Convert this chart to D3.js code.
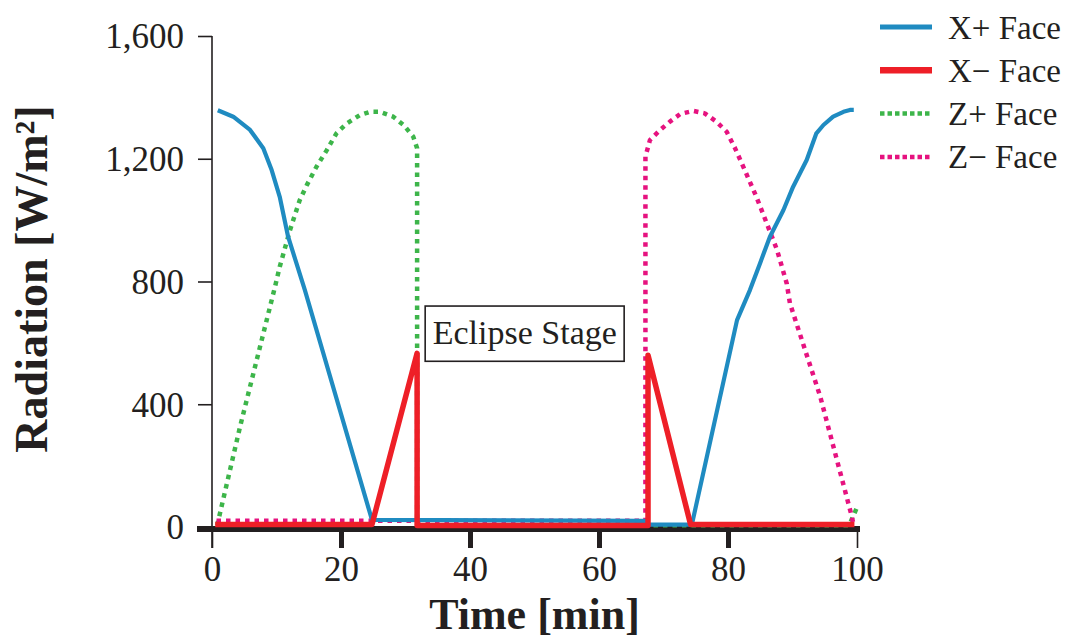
<!DOCTYPE html>
<html>
<head>
<meta charset="utf-8">
<script src="https://cdn.jsdelivr.net/npm/d3@7"></script>
<style>
  body { margin: 0; background: #fff; }
  svg { display: block; }
  text { font-family: "Liberation Serif", "DejaVu Serif", serif; fill: #231f20; }
</style>
</head>
<body>
<div id="chart"></div>
<script>
// series (time in min, radiation in W/m2)
const xPlusTime  = [0.9, 3.3, 5.9, 7.95, 9.25, 10.5, 11.8, 14.4, 24.8, 67.2, 67.3, 74.4, 81.4, 83.4, 84.96, 86.5, 88.6, 90.1, 92.2, 93.7, 94.8, 96.3, 97.9, 98.9, 99.5];
const xPlusValue = [1358, 1337, 1294, 1234, 1163, 1076, 946, 772, 23, 20, 8, 8, 674, 772, 859, 946, 1033, 1109, 1196, 1283, 1310, 1337, 1353, 1359, 1359];

const xMinusTime  = [0.5, 24.8, 31.8, 31.8, 67.6, 67.6, 74.2, 99.6];
const xMinusValue = [8, 8, 566, 5, 5, 560, 8, 8];

const zPlusTime  = [0.8, 4.34, 9.77, 10.5, 12.1, 13.6, 14.7, 16.2, 17.8, 19.3, 20.9, 22.9, 24.5, 26.0, 28.1, 29.7, 31.2, 31.8, 31.8, 98.8, 99.9];
const zPlusValue = [5, 326, 783, 848, 968, 1065, 1114, 1174, 1228, 1283, 1315, 1342, 1353, 1353, 1337, 1310, 1272, 1234, 6, 6, 59];

const zMinusTime  = [0.7, 67.2, 67.2, 67.9, 69.5, 71.0, 72.6, 74.6, 76.4, 78.2, 79.8, 81.1, 82.6, 84.4, 86.0, 87.6, 89.1, 89.6, 94.3, 99.2, 99.4];
const zMinusValue = [20, 20, 1207, 1261, 1294, 1321, 1346, 1356, 1348, 1321, 1288, 1234, 1163, 1076, 990, 903, 794, 729, 425, 34, 13];

const yTicks = [0, 400, 800, 1200, 1600];
const xTicks = [0, 20, 40, 60, 80, 100];

const seriesNames  = ["X+ Face", "X\u2212 Face", "Z+ Face", "Z\u2212 Face"];
const seriesColors = ["#1f8bc1", "#ee1f27", "#3db54a", "#e6127f"];

const eclipseText = "Eclipse Stage";

const W = 1076, H = 642;

const svg = d3.select("#chart").append("svg")
    .attr("width", W)
    .attr("height", H);

// scales
const x = d3.scaleLinear().domain([0, 100]).range([212, 857]);
const y = d3.scaleLinear().domain([0, 1600]).range([527, 36]);

const axisY = 529;

// y axis
const yAxis = svg.append("g")
    .attr("transform", "translate(" + x(0) + ",0)")
    .call(d3.axisLeft(y).tickValues(yTicks).tickSize(14).tickSizeOuter(0).tickFormat(d3.format(",")));
yAxis.select(".domain").remove();
yAxis.selectAll(".tick line").attr("stroke", "#231f20").attr("stroke-width", 1.6);
yAxis.selectAll(".tick text")
    .attr("x", -28)
    .attr("dy", "0.34em")
    .style("font-size", "35px")
    .style("font-family", "Liberation Serif, serif")
    .attr("fill", "#231f20");
yAxis.append("line")
    .attr("x1", 0).attr("x2", 0)
    .attr("y1", y(1600)).attr("y2", axisY + 19)
    .attr("stroke", "#231f20").attr("stroke-width", 1.6);

// x axis
const xAxis = svg.append("g")
    .attr("transform", "translate(0," + axisY + ")")
    .call(d3.axisBottom(x).tickValues(xTicks).tickSize(19).tickSizeOuter(0));
xAxis.select(".domain").remove();
xAxis.selectAll(".tick line")
    .attr("stroke", "#231f20")
    .attr("stroke-width", d => (d === 0 || d === 100) ? 1.6 : 5);
xAxis.selectAll(".tick text")
    .attr("y", 27)
    .attr("dy", "0.71em")
    .style("font-size", "35px")
    .style("font-family", "Liberation Serif, serif")
    .attr("fill", "#231f20");
xAxis.append("line")
    .attr("x1", x(0) - 15).attr("x2", x(100) + 3)
    .attr("y1", 0).attr("y2", 0)
    .attr("stroke", "#231f20").attr("stroke-width", 6);

// axis titles
svg.append("text")
    .attr("transform", "translate(47,279) rotate(-90)")
    .attr("text-anchor", "middle")
    .style("font-size", "46px")
    .style("font-weight", "bold")
    .text("Radiation [W/m\u00B2]");

svg.append("text")
    .attr("x", (x(0) + x(100)) / 2)
    .attr("y", 629)
    .attr("text-anchor", "middle")
    .style("font-size", "44px")
    .style("font-weight", "bold")
    .text("Time [min]");

// lines
const line = d3.line()
    .x(d => x(d[0]))
    .y(d => y(d[1]));

const series = [
    { name: seriesNames[2], color: seriesColors[2], dotted: true,  w: 4.5, data: d3.zip(zPlusTime, zPlusValue) },
    { name: seriesNames[3], color: seriesColors[3], dotted: true,  w: 4.5, data: d3.zip(zMinusTime, zMinusValue) },
    { name: seriesNames[0], color: seriesColors[0], dotted: false, w: 4.2, data: d3.zip(xPlusTime, xPlusValue) },
    { name: seriesNames[1], color: seriesColors[1], dotted: false, w: 5.5, data: d3.zip(xMinusTime, xMinusValue) }
];

svg.selectAll("path.series")
    .data(series)
    .enter()
    .append("path")
    .attr("class", "series")
    .attr("d", d => line(d.data))
    .attr("fill", "none")
    .attr("stroke", d => d.color)
    .attr("stroke-width", d => d.w)
    .attr("stroke-linejoin", "round")
    .attr("stroke-dasharray", d => d.dotted ? "4.5,5" : null);

// eclipse annotation
const box = svg.append("g");
box.append("rect")
    .attr("x", x(33.05)).attr("y", y(720))
    .attr("width", x(63.9) - x(33.05))
    .attr("height", y(540) - y(720))
    .attr("fill", "#fff")
    .attr("stroke", "#231f20")
    .attr("stroke-width", 1.6);
box.append("text")
    .attr("x", x(48.5))
    .attr("y", y(630))
    .attr("dy", "0.3em")
    .attr("text-anchor", "middle")
    .style("font-size", "34px")
    .text(eclipseText);

// legend
const legendRows = [0, 1, 2, 3];
const legend = svg.append("g").attr("transform", "translate(880,27)");
const rows = legend.selectAll("g")
    .data(legendRows)
    .enter()
    .append("g")
    .attr("transform", i => "translate(0," + (i * 43.3) + ")");
rows.append("line")
    .attr("x1", 0).attr("x2", 52)
    .attr("y1", 0).attr("y2", 0)
    .attr("stroke", i => seriesColors[i])
    .attr("stroke-width", i => i === 1 ? 6.5 : (i === 0 ? 5 : 4.5))
    .attr("stroke-dasharray", i => i > 1 ? "4.5,3" : null);
rows.append("text")
    .attr("x", 68)
    .attr("dy", "0.35em")
    .style("font-size", "33px")
    .text(i => seriesNames[i]);
</script>
</body>
</html>
